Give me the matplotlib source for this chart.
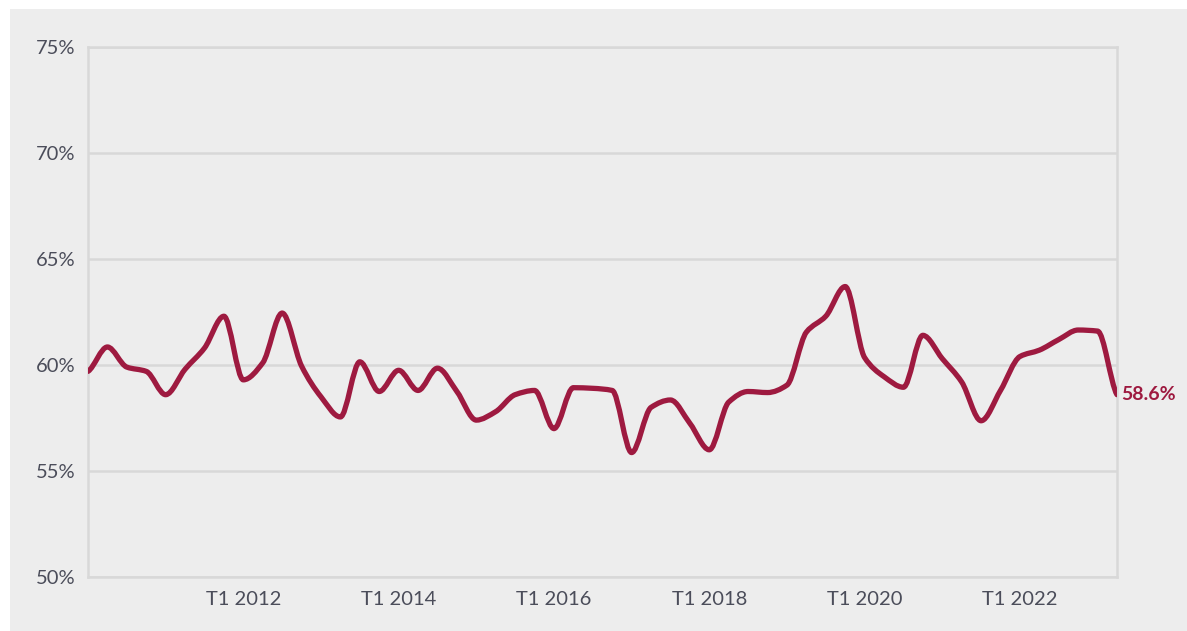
import numpy as np
import matplotlib.pyplot as plt
from matplotlib.path import Path
from matplotlib.patches import PathPatch, Rectangle

# quarterly values, T1 2010 .. T2 2023
values = [59.7, 60.85, 59.9, 59.7, 58.6, 59.8, 60.8, 62.3,
          59.3, 60.1, 62.45, 59.95, 58.5, 57.55, 60.15, 58.75,
          59.75, 58.8, 59.85, 58.75, 57.4, 57.8, 58.6, 58.8,
          57.0, 58.93, 58.9, 58.8, 55.87, 58.0, 58.35, 57.25,
          56.0, 58.25, 58.75, 58.7, 59.05, 61.55, 62.3, 63.7,
          60.35, 59.45, 58.95, 61.4, 60.3, 59.2, 57.37, 58.8,
          60.4, 60.7, 61.2, 61.65, 61.6, 58.6]
tick_idx = [8, 16, 24, 32, 40, 48]
tick_labels = ["T1 2012", "T1 2014", "T1 2016", "T1 2018", "T1 2020", "T1 2022"]
y_ticks = [50, 55, 60, 65, 70, 75]
last_label = "58.6%"

line_col = "#9e1a40"
grid_col = "#d8d8d8"
text_col = "#4b4d5a"
font = "Lato"


def smooth_path(x, y):
    # bezier through the points, monotone (pchip-like) tangents so no overshoot
    x = np.asarray(x, float)
    y = np.asarray(y, float)
    h = np.diff(x)
    d = np.diff(y) / h
    n = len(y)
    m = np.zeros(n)
    for i in range(1, n - 1):
        if d[i - 1] * d[i] > 0:
            w1 = 2 * h[i] + h[i - 1]
            w2 = h[i] + 2 * h[i - 1]
            m[i] = (w1 + w2) / (w1 / d[i - 1] + w2 / d[i])
    m[0] = d[0] * 0.5
    m[-1] = d[-1] * 0.5
    verts = [(x[0], y[0])]
    codes = [Path.MOVETO]
    for i in range(n - 1):
        dx = h[i] / 3
        verts += [(x[i] + dx, y[i] + m[i] * dx),
                  (x[i + 1] - dx, y[i + 1] - m[i + 1] * dx),
                  (x[i + 1], y[i + 1])]
        codes += [Path.CURVE4] * 3
    return Path(verts, codes)


fig = plt.figure(figsize=(11.87, 6.31), dpi=100, facecolor="white")
fig.patches.append(Rectangle((10 / 1187, 0), 1 - 10 / 1187, 1 - 9 / 631,
                             transform=fig.transFigure, facecolor="#ededed",
                             edgecolor="none", zorder=-5))

ax = fig.add_axes([88 / 1187, 1 - 577 / 631, (1117 - 88) / 1187, (577 - 47) / 631])
ax.set_facecolor("#ededed")

x = np.arange(len(values))
ax.add_patch(PathPatch(smooth_path(x, values), facecolor="none", edgecolor=line_col,
                       lw=3.8, capstyle="round", joinstyle="round", zorder=3))

ax.set_xlim(0, len(values) - 1)
ax.set_ylim(50, 75)
ax.set_yticks(y_ticks)
ax.set_yticklabels([f"{v}%" for v in y_ticks], fontsize=14.5, color=text_col, fontfamily=font)
ax.set_xticks(tick_idx)
ax.set_xticklabels(tick_labels, fontsize=14.5, color=text_col, fontfamily=font)
ax.tick_params(length=0, pad=10)
ax.tick_params(axis="y", pad=9)
ax.grid(axis="y", color=grid_col, lw=1.8)
for s in ax.spines.values():
    s.set_color(grid_col)
    s.set_linewidth(1.8)

ax.text(len(values) - 1 + 0.2, values[-1], last_label, color=line_col, fontsize=14,
        fontweight="bold", fontfamily=font, va="center", ha="left", clip_on=False)

fig.savefig("out.png", dpi=100, facecolor=fig.get_facecolor())
